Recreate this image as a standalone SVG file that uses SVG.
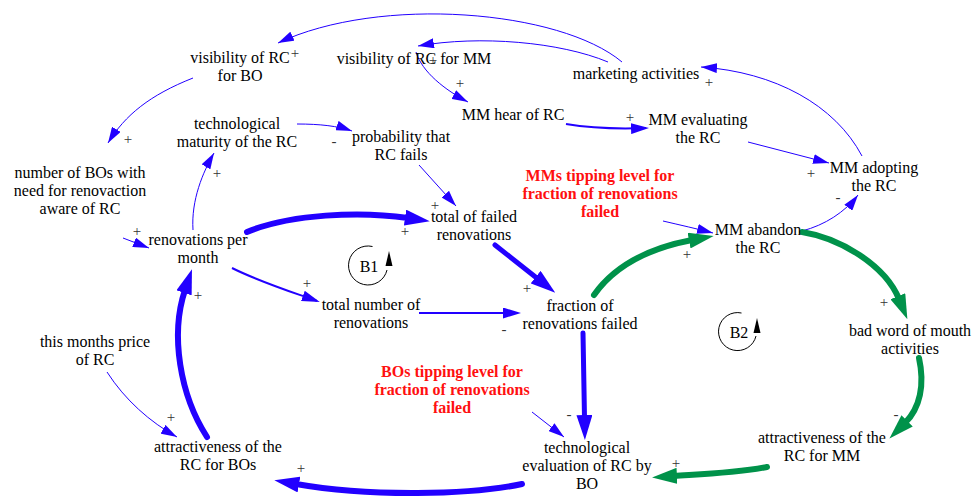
<svg xmlns="http://www.w3.org/2000/svg" width="974" height="500" viewBox="0 0 974 500">
<style>
  .t { font-family: "Liberation Serif", "Times New Roman", serif; font-size: 16px; fill: #000; text-anchor: middle; }
  .r { font-family: "Liberation Serif", "Times New Roman", serif; font-size: 16px; font-weight: bold; fill: #ff1010; text-anchor: middle; }
  .s { font-family: "Liberation Serif", "Times New Roman", serif; font-size: 15px; fill: #333; text-anchor: middle; }
  .thin { fill: none; stroke: #2200ff; stroke-width: 1; marker-end: url(#aThin); }
  .med { fill: none; stroke: #2200ff; stroke-width: 2; marker-end: url(#aMed); }
  .thick { fill: none; stroke: #2200ff; stroke-width: 6; stroke-linecap: round; marker-end: url(#aThickB); }
  .thickg { fill: none; stroke: #00924a; stroke-width: 6; stroke-linecap: round; marker-end: url(#aThickG); }
  .loop { fill: none; stroke: #000; stroke-width: 1; }
</style>
<defs>
  <marker id="aThin" markerUnits="userSpaceOnUse" markerWidth="16" markerHeight="10" viewBox="0 0 16 10" refX="16" refY="5" orient="auto">
    <path d="M0,0 L16,5 L0,10 z" fill="#2200ff"/>
  </marker>
  <marker id="aMed" markerUnits="userSpaceOnUse" markerWidth="18" markerHeight="11" viewBox="0 0 18 11" refX="15" refY="5.5" orient="auto">
    <path d="M0,0 L18,5.5 L0,11 z" fill="#2200ff"/>
  </marker>
  <marker id="aThickB" markerUnits="userSpaceOnUse" markerWidth="25" markerHeight="16" viewBox="0 0 25 16" refX="3" refY="8" orient="auto">
    <path d="M0,0 L25,8 L0,16 z" fill="#2200ff"/>
  </marker>
  <marker id="aThickG" markerUnits="userSpaceOnUse" markerWidth="25" markerHeight="16" viewBox="0 0 25 16" refX="3" refY="8" orient="auto">
    <path d="M0,0 L25,8 L0,16 z" fill="#00924a"/>
  </marker>
</defs>

<g id="connectors">
  <path class="thin" d="M622,62 C560,10 380,-5 278,43"/>
  <path class="thin" d="M608,62 C560,42 480,35 418,46"/>
  <path class="thin" d="M416,52 C422,72 445,90 468,102"/>
  <path class="med" d="M566,124 C590,128 620,129 646,128"/>
  <path class="thin" d="M748,142 L829,163"/>
  <path class="thin" d="M862,156 C835,105 775,72 701,67"/>
  <path class="thin" d="M802,231 C825,225 845,212 858,195"/>
  <path class="thin" d="M663,221 C680,225 698,229 713,233"/>
  <path class="thin" d="M193,78 C150,95 125,115 108,143"/>
  <path class="thin" d="M297,124 C320,124 338,126 352,131"/>
  <path class="thin" d="M419,165 L456,206"/>
  <path class="thin" d="M193,230 C191,200 203,172 214,153"/>
  <path class="thin" d="M123,238 L149,248"/>
  <path class="thick" d="M247,232 C290,214 360,211 408,218"/>
  <path class="med" d="M232,268 C260,282 292,292 317,301"/>
  <path class="med" d="M419,313 L518,313"/>
  <path class="thick" style="stroke-width:5" d="M495,245 L538,279"/>
  <path class="thickg" d="M594,295 C615,265 650,248 692,240"/>
  <path class="thickg" d="M802,232 C840,238 885,265 899,299"/>
  <path class="thickg" d="M919,358 C925,385 920,408 905,423"/>
  <path class="thickg" d="M767,467 C735,473 705,474 674,476"/>
  <path class="thick" style="stroke-width:5" d="M583,333 L584.5,418"/>
  <path class="thin" d="M532,412 L564,437"/>
  <path class="thick" d="M522,484 C470,495 370,497 296,484"/>
  <path class="thick" d="M207,437 C180,395 170,335 185,290"/>
  <path class="thin" d="M107,372 C125,400 150,422 177,437"/>
</g>

<g id="loops">
  <g id="B1">
    <path class="loop" d="M372.5,246.5 A19.5,19.5 0 1 0 387,270"/>
    <polygon points="389,251 385.5,266 392.5,266" fill="#000"/>
    <text class="t" x="369" y="272">B1</text>
  </g>
  <g id="B2">
    <path class="loop" d="M741.5,313 A19,19 0 1 0 756,336"/>
    <polygon points="757,318 753.5,333 760.5,333" fill="#000"/>
    <text class="t" x="739" y="338">B2</text>
  </g>
</g>

<g id="n_vis_bo"><text class="t" x="240" y="63">visibility of RC</text><text class="t" x="240" y="81">for BO</text></g>
<g id="n_vis_mm"><text class="t" x="414" y="64">visibility of RC for MM</text></g>
<g id="n_marketing"><text class="t" x="636" y="79">marketing activities</text></g>
<g id="n_mm_hear"><text class="t" x="513" y="120">MM hear of RC</text></g>
<g id="n_mm_eval"><text class="t" x="698" y="125">MM evaluating</text><text class="t" x="698" y="143">the RC</text></g>
<g id="n_mm_adopt"><text class="t" x="874" y="173">MM adopting</text><text class="t" x="874" y="191">the RC</text></g>
<g id="n_mm_tip"><text class="r" x="600" y="181">MMs tipping level for</text><text class="r" x="600" y="199">fraction of renovations</text><text class="r" x="600" y="217">failed</text></g>
<g id="n_mm_abandon"><text class="t" x="758" y="235">MM abandon</text><text class="t" x="758" y="253">the RC</text></g>
<g id="n_tech_mat"><text class="t" x="237" y="129">technological</text><text class="t" x="237" y="147">maturity of the RC</text></g>
<g id="n_prob"><text class="t" x="401" y="142">probability that</text><text class="t" x="401" y="160">RC fails</text></g>
<g id="n_num_bo"><text class="t" x="80" y="178">number of BOs with</text><text class="t" x="80" y="196">need for renovaction</text><text class="t" x="80" y="214">aware of RC</text></g>
<g id="n_renov"><text class="t" x="198" y="245">renovations per</text><text class="t" x="198" y="263">month</text></g>
<g id="n_total_failed"><text class="t" x="474" y="222">total of failed</text><text class="t" x="474" y="240">renovations</text></g>
<g id="n_total_num"><text class="t" x="371" y="310">total number of</text><text class="t" x="371" y="328">renovations</text></g>
<g id="n_fraction"><text class="t" x="580" y="311">fraction of</text><text class="t" x="580" y="329">renovations failed</text></g>
<g id="n_bad_word"><text class="t" x="910" y="336">bad word of mouth</text><text class="t" x="910" y="354">activities</text></g>
<g id="n_attr_mm"><text class="t" x="822" y="443">attractiveness of the</text><text class="t" x="822" y="461">RC for MM</text></g>
<g id="n_tech_eval"><text class="t" x="587" y="453">technological</text><text class="t" x="587" y="471">evaluation of RC by</text><text class="t" x="587" y="489">BO</text></g>
<g id="n_bo_tip"><text class="r" x="452" y="377">BOs tipping level for</text><text class="r" x="452" y="395">fraction of renovations</text><text class="r" x="452" y="413">failed</text></g>
<g id="n_price"><text class="t" x="95" y="347">this months price</text><text class="t" x="95" y="365">of RC</text></g>
<g id="n_attr_bo"><text class="t" x="218" y="452">attractiveness of the</text><text class="t" x="218" y="470">RC for BOs</text></g>

<g id="polarities">
  <text class="s" x="295" y="58">+</text>
  <text class="s" x="433" y="65">+</text>
  <text class="s" x="709" y="87">+</text>
  <text class="s" x="460" y="88">+</text>
  <text class="s" x="630" y="122">+</text>
  <text class="s" x="811" y="178">+</text>
  <text class="s" x="838" y="202">-</text>
  <text class="s" x="128" y="144">+</text>
  <text class="s" x="334" y="146">-</text>
  <text class="s" x="217" y="178">+</text>
  <text class="s" x="137" y="236">+</text>
  <text class="s" x="435" y="210">+</text>
  <text class="s" x="405" y="236">+</text>
  <text class="s" x="307" y="288">+</text>
  <text class="s" x="527" y="293">+</text>
  <text class="s" x="504" y="334">-</text>
  <text class="s" x="687" y="259">+</text>
  <text class="s" x="884" y="307">+</text>
  <text class="s" x="896" y="419">-</text>
  <text class="s" x="676" y="468">+</text>
  <text class="s" x="569" y="419">-</text>
  <text class="s" x="171" y="422">+</text>
  <text class="s" x="198" y="300">+</text>
  <text class="s" x="301" y="473">+</text>
</g>
</svg>
